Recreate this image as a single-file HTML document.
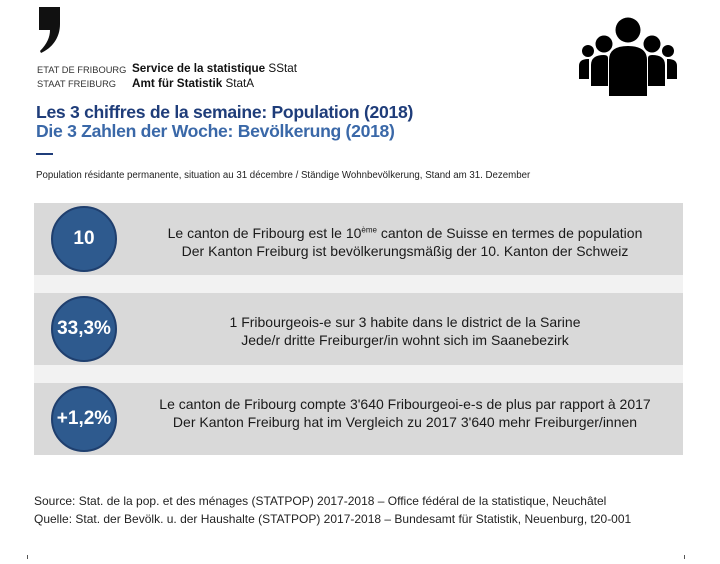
<!DOCTYPE html>
<html><head><meta charset="utf-8"><style>
body{margin:0;width:720px;height:564px;background:#fff;position:relative;font-family:"Liberation Sans",Arial,sans-serif;overflow:hidden}
.a{position:absolute;white-space:nowrap}
.box{position:absolute;left:34px;width:649px;height:72px;background:#d9d9d9}
.gap{position:absolute;left:34px;width:649px;height:18px;background:#f2f2f2}
.c{position:absolute;left:51px;width:66px;height:66px;border-radius:50%;background:#2e5a8e;border:2px solid #1f3f6e;box-sizing:border-box;color:#fff;font-weight:bold;font-size:19px;display:flex;align-items:center;justify-content:center}
.t{position:absolute;left:130px;width:550px;text-align:center;font-size:14px;line-height:18px;color:#1a1a1a}
</style></head><body>
<svg class="a" style="left:36px;top:6px" width="30" height="48" viewBox="0 0 30 48"><path d="M3 1 H24 V18 C24 32 16 42 5 47 L4 45 C11 38 14 31 14 24 H3 Z" fill="#111"/></svg>
<div class="a" style="left:37px;top:65px;font-size:9.3px;color:#333">ETAT DE FRIBOURG</div>
<div class="a" style="left:37px;top:79px;font-size:9.3px;color:#333">STAAT FREIBURG</div>
<div class="a" style="left:132px;top:62px;font-size:11.7px;color:#111"><b>Service de la statistique</b> SStat</div>
<div class="a" style="left:132px;top:77px;font-size:11.7px;color:#111"><b>Amt für Statistik</b> StatA</div>
<div class="a" style="left:36px;top:102px;font-size:17.6px;font-weight:bold;color:#1f3d7a;letter-spacing:-0.3px">Les 3 chiffres de la semaine: Population (2018)</div>
<div class="a" style="left:36px;top:121px;font-size:17.6px;font-weight:bold;color:#3a68a8;letter-spacing:-0.3px">Die 3 Zahlen der Woche: Bevölkerung (2018)</div>
<div class="a" style="left:36px;top:153px;width:17px;height:2px;background:#1f3d7a"></div>
<div class="a" style="left:36px;top:170px;font-size:9.7px;color:#222">Population résidante permanente, situation au 31 décembre / Ständige Wohnbevölkerung, Stand am 31. Dezember</div>
<svg class="a" style="left:575px;top:8px" width="110" height="90"><g fill="#000">
<circle cx="53" cy="22" r="12.5"/><path d="M34 88 V52 Q34 38 53 38 Q72 38 72 52 V88 Z"/>
<circle cx="29" cy="36" r="8.5"/><path d="M16 78 V57 Q16 47 29 47 Q33 47 33 50 V78 Z"/>
<circle cx="77" cy="36" r="8.5"/><path d="M90 78 V57 Q90 47 77 47 Q73 47 73 50 V78 Z"/>
<circle cx="13" cy="43" r="6"/><path d="M4 71 V58 Q4 51 13 51 L14 51 V71 Z"/>
<circle cx="93" cy="43" r="6"/><path d="M102 71 V58 Q102 51 93 51 L92 51 V71 Z"/>
</g></svg>
<div class="box" style="top:203px"></div><div class="gap" style="top:275px"></div>
<div class="box" style="top:293px"></div><div class="gap" style="top:365px"></div>
<div class="box" style="top:383px"></div>
<div class="c" style="top:206px">10</div>
<div class="c" style="top:296px">33,3%</div>
<div class="c" style="top:386px">+1,2%</div>
<div class="t" style="top:224px">Le canton de Fribourg est le 10<sup style="font-size:8px;line-height:0">ème</sup> canton de Suisse en termes de population<br>Der Kanton Freiburg ist bevölkerungsmäßig der 10. Kanton der Schweiz</div>
<div class="t" style="top:313px">1 Fribourgeois-e sur 3 habite dans le district de la Sarine<br>Jede/r dritte Freiburger/in wohnt sich im Saanebezirk</div>
<div class="t" style="top:395px">Le canton de Fribourg compte 3'640 Fribourgeoi-e-s de plus par rapport à 2017<br>Der Kanton Freiburg hat im Vergleich zu 2017 3'640 mehr Freiburger/innen</div>
<div class="a" style="left:34px;top:494px;font-size:12px;color:#222">Source: Stat. de la pop. et des ménages (STATPOP) 2017-2018 – Office fédéral de la statistique, Neuchâtel</div>
<div class="a" style="left:34px;top:512px;font-size:12px;color:#222">Quelle: Stat. der Bevölk. u. der Haushalte (STATPOP) 2017-2018 – Bundesamt für Statistik, Neuenburg, t20-001</div>
<div class="a" style="left:27px;top:555px;width:1px;height:4px;background:#555"></div>
<div class="a" style="left:684px;top:555px;width:1px;height:4px;background:#555"></div>
</body></html>
